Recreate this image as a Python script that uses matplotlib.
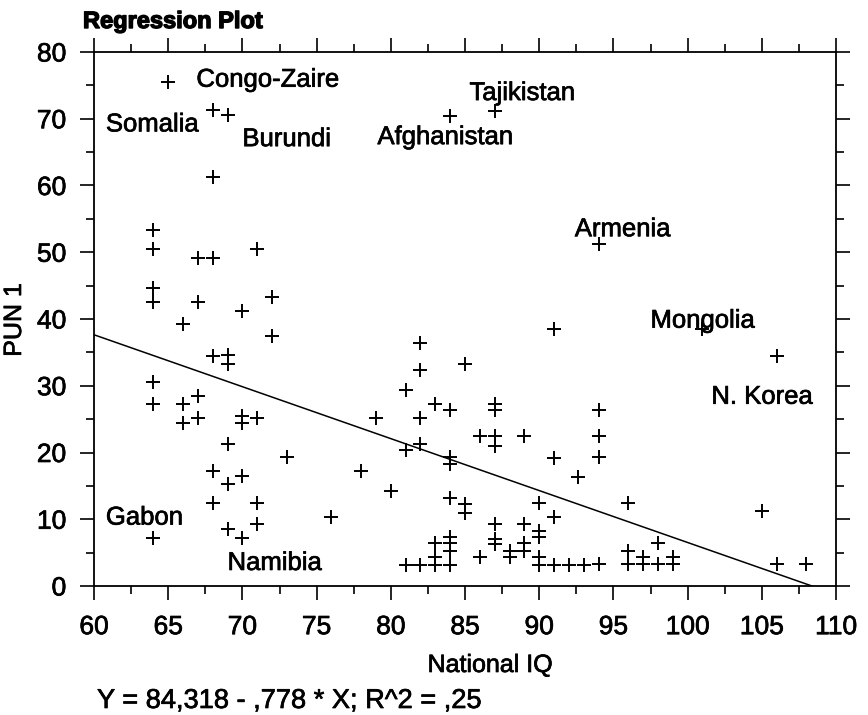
import matplotlib
matplotlib.use("Agg")
import matplotlib.pyplot as plt
import matplotlib.patheffects as pe
from matplotlib.ticker import MultipleLocator
import numpy as np

plt.rcParams['font.family'] = ['Liberation Sans', 'DejaVu Sans']

# National IQ (x) and PUN 1 (y) values
iq = [64, 64, 64, 64, 64, 64, 64,
      65,
      66, 66, 66,
      67, 67, 67, 67,
      68, 68, 68, 68, 68, 68,
      69, 69, 69, 69, 69, 69,
      70, 70, 70, 70, 70,
      71, 71, 71, 71,
      72, 72,
      73, 76, 78, 79, 80,
      81, 81, 81,
      82, 82, 82, 82, 82,
      83, 83, 83, 83,
      84, 84, 84, 84, 84, 84, 84, 84, 84,
      85, 85, 85,
      86, 86,
      87, 87, 87, 87, 87, 87, 87, 87,
      88, 88,
      89, 89, 89, 89,
      90, 90, 90, 90, 90,
      91, 91, 91, 91,
      92, 92.6, 93,
      94, 94, 94, 94, 94,
      96, 96, 96,
      97, 97,
      98, 98,
      99, 99,
      101, 105, 106, 106, 108]
pun = [53.4, 50.5, 44.6, 42.6, 30.5, 27.2, 7.2,
       75.5,
       39.2, 27.2, 24.4,
       49.2, 42.5, 28.4, 25.2,
       71.3, 61.3, 49.2, 34.5, 17.3, 12.5,
       70.5, 34.6, 33.3, 21.3, 15.3, 8.5,
       41.2, 25.4, 24.4, 16.5, 7.2,
       50.5, 25.2, 12.5, 9.3,
       43.3, 37.4,
       19.3, 10.4, 17.2, 25.2, 14.3,
       29.3, 20.4, 3.2,
       36.4, 32.4, 25.2, 21.2, 3.2,
       27.3, 6.4, 4.4, 3.2,
       70.4, 26.4, 19.3, 18.3, 13.2, 7.4, 6.4, 5.3, 3.2,
       33.3, 12.3, 11.0,
       22.4, 4.4,
       71.2, 27.3, 26.4, 22.4, 21.0, 9.3, 7.1, 6.3,
       5.3, 4.4,
       22.4, 9.3, 6.4, 5.3,
       12.4, 8.3, 7.3, 4.4, 3.2,
       38.5, 19.2, 10.4, 3.2,
       3.2, 16.4, 3.2,
       51.2, 26.4, 22.4, 19.3, 3.3,
       12.4, 5.3, 3.3,
       4.4, 3.3,
       6.5, 3.3,
       4.4, 3.3,
       38.5, 11.2, 34.4, 3.3, 3.3]

# Regression coefficients shown in the footnote
intercept = 84.318
slope = -0.778

# Country labels (text, x, baseline y)
label_text = ["Congo-Zaire", "Somalia", "Burundi", "Tajikistan", "Afghanistan",
              "Armenia", "Mongolia", "N. Korea", "Gabon", "Namibia"]
label_x = [66.9, 60.8, 70.0, 85.3, 79.1, 92.4, 97.5, 101.6, 60.8, 69.0]
label_y = [74.8, 68.1, 65.9, 72.8, 66.2, 52.4, 38.7, 27.3, 9.2, 2.4]

heavy = [pe.withStroke(linewidth=0.5, foreground='black')]

fig = plt.figure(figsize=(8.68, 7.15), dpi=100)
ax = fig.add_axes([94/868, 1-586/715, (836-94)/868, (586-52)/715])

ax.plot(iq, pun, linestyle='none', marker='+', color='black',
        markersize=10, markeredgewidth=1.4)

x_end = -intercept / slope
xl = np.array([60, x_end])
ax.plot(xl, intercept + slope * xl, color='black', linewidth=1.1)

for t, x, y in zip(label_text, label_x, label_y):
    ax.text(x, y, t, fontsize=18.5, ha='left', va='baseline', color='black',
            path_effects=heavy)

ax.set_xlim(60, 110)
ax.set_ylim(0, 80)
ax.xaxis.set_major_locator(MultipleLocator(5))
ax.xaxis.set_minor_locator(MultipleLocator(2.5))
ax.yaxis.set_major_locator(MultipleLocator(10))
ax.yaxis.set_minor_locator(MultipleLocator(5))
ax.tick_params(which='both', direction='out', top=True, right=True,
               labeltop=False, labelright=False, color='black', width=1.2)
ax.tick_params(which='major', length=10)
ax.tick_params(which='minor', length=6)
ax.tick_params(axis='x', which='major', labelsize=19, pad=11)
ax.tick_params(axis='y', which='major', labelsize=19, pad=10)
for lab in ax.get_xticklabels() + ax.get_yticklabels():
    lab.set_path_effects(heavy)
for s in ax.spines.values():
    s.set_linewidth(1.3)

fig.text(490/868, 1-672/715, "National IQ", fontsize=18, ha='center', va='baseline',
         path_effects=heavy)
fig.text(14/868, 1-320/715, "PUN 1", fontsize=18, rotation=90, ha='center', va='center',
         path_effects=heavy)
fig.text(83/868, 1-28/715, "Regression Plot", fontsize=17, fontweight='bold',
         ha='left', va='baseline',
         path_effects=[pe.withStroke(linewidth=1.0, foreground='black')])
fig.text(97/868, 1-708/715, "Y = 84,318 - ,778 * X; R^2 = ,25", fontsize=19.6,
         ha='left', va='baseline', path_effects=heavy)

fig.savefig("out.png", dpi=100)
